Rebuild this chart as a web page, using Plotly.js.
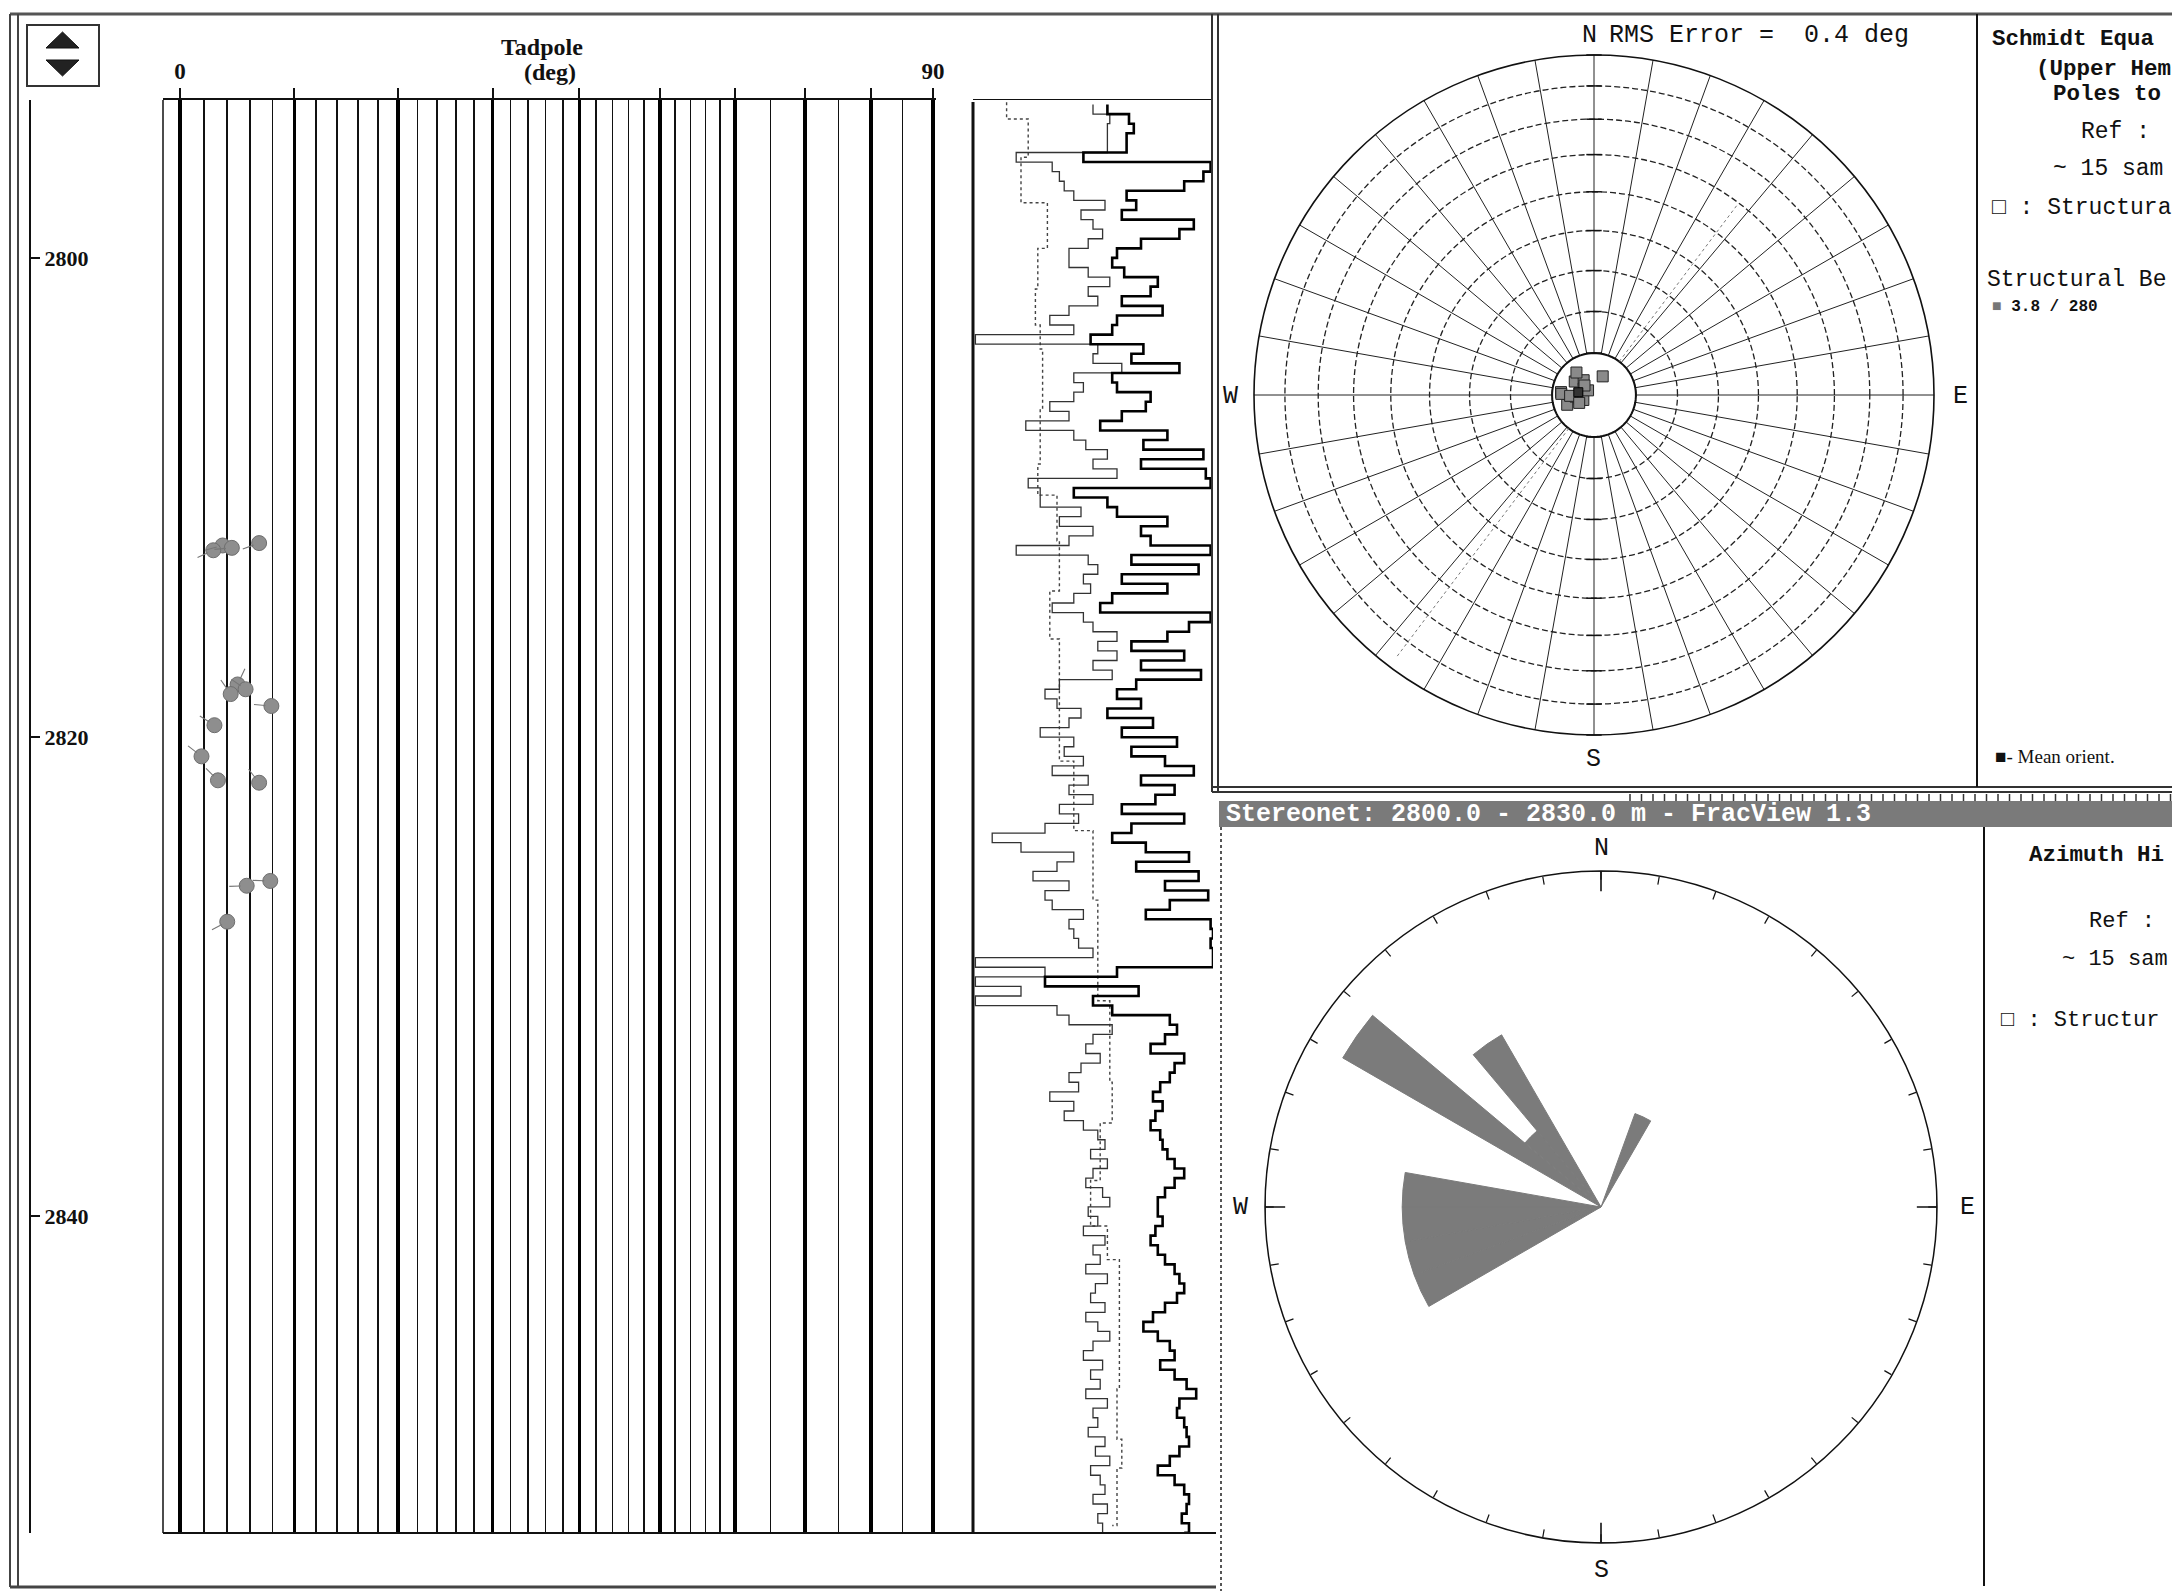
<!DOCTYPE html>
<html>
<head>
<meta charset="utf-8">
<script src="https://cdn.plot.ly/plotly-3.0.1.min.js"></script>
<style>
  html, body { margin: 0; padding: 0; background: #fff; }
  #chart { width: 2172px; height: 1591px; }
</style>
</head>
<body>
<div id="chart"></div>
<script>
const W = 2172, H = 1591;

// ---- Structural dips picked on the image log (depth m, dip deg, dip azimuth deg)
const dipDepth   = [2811.9, 2812.0, 2812.1, 2812.2, 2817.8, 2818.0, 2818.2, 2818.7, 2819.5, 2820.8, 2821.8, 2821.9, 2826.0, 2826.2, 2827.7];
const dipValue   = [6.8, 3.6, 4.4, 2.8, 4.9, 5.6, 4.3, 7.9, 2.9, 1.8, 3.2, 6.8, 7.8, 5.7, 4.0];
const dipAzimuth = [250, 255, 265, 245, 25, 305, 325, 275, 302, 308, 315, 322, 272, 268, 242];

// Structural bedding (mean orientation)
const meanDip = 3.8;
const meanAzimuth = 280;
const rmsError = 0.4;
const intervalTop = 2800.0, intervalBase = 2830.0;

// ---- Tadpole track grid (dip in degrees)
const dipMajor = [0, 10, 20, 30, 40, 50, 60, 70, 80, 90];
const dipMinor = [2, 4, 6, 8, 12, 14, 16, 18, 22, 24, 26, 28, 32, 34, 36, 38, 42, 44, 46, 48,
                  52, 54, 56, 58, 65, 75, 85];
const dipTickText = ['0', '', '', '', '', '', '', '', '', '90'];
const depthTicks = [2800, 2820, 2840];

// ---- Image-log curves, sampled every 0.4 m from 2793.6 m
const LOG_TOP = 2793.6, LOG_STEP = 0.4;
const logBold = [
  56, 65, 67, 64, 64, 46, 99, 96, 88, 64,
  68, 62, 92, 86, 70, 60, 58, 63, 77, 74,
  62, 79, 60, 58, 49, 71, 66, 86, 58, 60,
  74, 72, 62, 53, 81, 71, 96, 70, 97, 99,
  42, 56, 60, 81, 70, 74, 99, 66, 94, 62,
  81, 58, 53, 99, 90, 81, 66, 88, 70, 95,
  68, 60, 70, 56, 75, 62, 85, 66, 80, 92,
  70, 84, 76, 62, 88, 66, 58, 72, 90, 68,
  94, 80, 98, 82, 72, 99, 100, 99, 100, 100,
  60, 30, 69, 50, 58, 82, 85, 80, 74, 88,
  84, 82, 78, 75, 79, 76, 74, 78, 79, 81,
  84, 88, 84, 80, 77, 77, 79, 76, 74, 77,
  80, 84, 86, 88, 85, 80, 75, 71, 77, 82,
  84, 78, 84, 89, 93, 86, 85, 88, 89, 90,
  86, 82, 77, 84, 88, 90, 89, 87, 90, 88
];
const logThin = [
  50, 57, 56, 56, 56, 18, 33, 36, 38, 42,
  55, 45, 50, 54, 48, 40, 40, 48, 57, 48,
  52, 40, 32, 42, 1, 52, 50, 62, 42, 46,
  42, 32, 40, 22, 42, 47, 56, 50, 60, 23,
  28, 28, 45, 36, 50, 40, 18, 48, 52, 46,
  49, 42, 33, 46, 50, 60, 52, 60, 50, 58,
  36, 30, 35, 45, 40, 28, 42, 38, 46, 33,
  48, 40, 50, 36, 44, 30, 8, 20, 42, 35,
  25, 40, 30, 33, 46, 40, 42, 44, 50, 1,
  30, 1, 20, 1, 35, 40, 58, 50, 47, 53,
  45, 40, 44, 32, 42, 38, 46, 52, 55, 49,
  56, 50, 47, 54, 57, 48, 52, 46, 55, 50,
  53, 47, 56, 51, 49, 55, 47, 52, 57, 50,
  46, 54, 49, 53, 47, 56, 50, 52, 48, 55,
  51, 57, 49, 53, 55, 50, 56, 52, 54, 50
];
// Caliper-like dotted curve
const calDepth = [2793.5, 2794.2, 2795.5, 2795.8, 2796.6, 2797.7, 2799.6, 2801.3, 2802.8, 2803.8,
                  2806.3, 2808.6, 2809.4, 2809.9, 2811.8, 2813.9, 2815.9, 2817.6, 2821.0, 2823.9,
                  2826.8, 2831.0, 2834.4, 2836.1, 2838.5, 2840.4, 2841.8, 2843.7, 2847.2, 2849.3,
                  2850.5, 2852.9];
const calValue = [14, 23, 23, 20, 20, 31, 27, 26, 28, 29,
                  28, 27, 27, 35, 36, 32, 36, 36, 42, 50,
                  52, 57, 58, 53, 49, 56, 61, 61, 60, 62,
                  60, 58];

// ---- Stereonet / rose settings
const ringDips = [10, 20, 30, 40, 50, 60, 70, 80];
const roseBinWidth = 10;

// ---------------------------------------------------------------
const PX = x => x / W;
const PY = y => 1 - y / H;
const eqArea = d => Math.SQRT2 * Math.sin(d * Math.PI / 360);
const onLog = d => 90 + d;     // tadpole track uses a log(90 + dip) scale

const logDepth = logBold.map((_, i) => +(LOG_TOP + i * LOG_STEP).toFixed(2));

const ringR = ringDips.map(eqArea);

// rose histogram of dip azimuths
const nBins = 360 / roseBinWidth;
const roseCounts = new Array(nBins).fill(0);
dipAzimuth.forEach(a => { roseCounts[Math.floor((((a % 360) + 360) % 360) / roseBinWidth)] += 1; });
const roseTheta = [], roseR = [];
roseCounts.forEach((c, k) => { if (c > 0) { roseTheta.push(k * roseBinWidth + roseBinWidth / 2); roseR.push(c); } });
const roseMax = 3.38;

// circle of the 10 deg ring (masks the spokes near the centre)
const discTheta = [], discR = [];
for (let t = 0; t <= 360; t += 4) { discTheta.push(t); discR.push(ringR[0]); }

// cardinal crosses on the rose rim
const crossR = [], crossT = [];
[0, 90, 180, 270].forEach(t => {
  crossR.push(roseMax * 0.94, roseMax * 1.06, null, roseMax * 1.002, roseMax * 1.002, null);
  crossT.push(t, t, null, t - 3.2, t + 3.2, null);
});

const traces = [
  // caliper-like dotted curve
  { type: 'scatter', mode: 'lines', x: calValue, y: calDepth, xaxis: 'x2', yaxis: 'y',
    line: { color: '#444', width: 1.4, dash: 'dot', shape: 'vh' } },
  // thin image-log curve
  { type: 'scatter', mode: 'lines', x: logThin, y: logDepth, xaxis: 'x2', yaxis: 'y',
    line: { color: '#333', width: 1.3, shape: 'vh' } },
  // bold image-log curve
  { type: 'scatter', mode: 'lines', x: logBold, y: logDepth, xaxis: 'x2', yaxis: 'y',
    line: { color: '#000', width: 2.6, shape: 'vh' } },
  // tadpole heads
  { type: 'scatter', mode: 'markers', x: dipValue.map(onLog), y: dipDepth, xaxis: 'x', yaxis: 'y',
    marker: { size: 15, color: '#8e8e8e', line: { color: '#6e6e6e', width: 1 } } },

  // stereonet: white disc inside the 10 deg ring
  { type: 'scatterpolar', subplot: 'polar', mode: 'lines', r: discR, theta: discTheta,
    fill: 'toself', fillcolor: '#fff', line: { color: '#111', width: 2 } },
  // faint dotted trace through the net
  { type: 'scatterpolar', subplot: 'polar', mode: 'lines',
    r: [ringR[0], 0.70, null, ringR[0], 0.97], theta: [37, 37, null, 217, 217],
    line: { color: '#777', width: 1, dash: 'dot' } },
  // ring crosses on the N-S line
  { type: 'scatterpolar', subplot: 'polar', mode: 'markers',
    r: ringR.concat([1]).concat(ringR).concat([1]),
    theta: ringR.map(() => 0).concat([0]).concat(ringR.map(() => 180)).concat([180]),
    marker: { symbol: 'line-ew', size: 11, line: { color: '#111', width: 1.5 } }, cliponaxis: false },
  // poles to planes
  { type: 'scatterpolar', subplot: 'polar', mode: 'markers', r: dipValue.map(eqArea), theta: dipAzimuth,
    marker: { symbol: 'square', size: 11, color: '#8a8a8a', line: { color: '#222', width: 1 } } },
  // mean orientation
  { type: 'scatterpolar', subplot: 'polar', mode: 'markers', r: [eqArea(meanDip)], theta: [meanAzimuth],
    marker: { symbol: 'square', size: 9, color: '#333', line: { color: '#000', width: 1 } } },

  // rose diagram
  { type: 'barpolar', subplot: 'polar2', r: roseR, theta: roseTheta, width: roseBinWidth,
    marker: { color: '#7b7b7b', line: { color: '#7b7b7b', width: 1 } } },
  { type: 'scatterpolar', subplot: 'polar2', mode: 'lines', r: crossR, theta: crossT,
    line: { color: '#111', width: 1.6 }, cliponaxis: false }
];

// ---- frames and decorations
const shapes = [];
const line = (x0, y0, x1, y1, w, c, dash) => shapes.push({
  type: 'line', xref: 'paper', yref: 'paper', x0: PX(x0), y0: PY(y0), x1: PX(x1), y1: PY(y1),
  line: { color: c || '#111', width: w || 1.5, dash: dash || 'solid' } });

line(10, 14, 2172, 14, 3, '#555');          // top border
line(10, 14, 10, 1587, 2, '#444');          // outer double frame
line(18, 14, 18, 1587, 2, '#444');
line(10, 1587, 1216, 1587, 3, '#444');
line(1212, 14, 1212, 792, 2, '#333');       // left panel / stereonet divider
line(1218, 14, 1218, 792, 2, '#333');
line(1212, 787, 2172, 787, 2, '#333');      // stereonet panel bottom
line(1212, 792, 2172, 792, 2, '#333');
line(1221, 827, 1221, 1591, 2, '#555', 'dot');
line(1977, 14, 1977, 787, 2, '#111');       // stereonet text column
line(1984, 827, 1984, 1586, 2, '#111');     // rose text column
line(163, 100, 163, 1533, 1.5, '#111');     // tadpole track left side
line(163, 1533, 1216, 1533, 2, '#111');     // tracks base line
line(973, 102, 973, 1533, 3, '#111');       // log track left side

// ruler strip above the banner
let ruler = '';
for (let x = 1630; x < 2172; x += 11.5) {
  ruler += `M${PX(x)},${PY(794)} L${PX(x)},${PY(801)} `;
}
shapes.push({ type: 'path', xref: 'paper', yref: 'paper', path: ruler, line: { color: '#333', width: 1.5 } });

// banner
shapes.push({ type: 'rect', xref: 'paper', yref: 'paper', x0: PX(1219), x1: PX(2172), y0: PY(827), y1: PY(801),
  fillcolor: '#7a7a7a', line: { width: 0 } });

// scroll button
shapes.push({ type: 'rect', xref: 'paper', yref: 'paper', x0: PX(27), x1: PX(99), y0: PY(86), y1: PY(25),
  fillcolor: '#fff', line: { color: '#333', width: 2 } });
shapes.push({ type: 'path', xref: 'paper', yref: 'paper',
  path: `M${PX(46)},${PY(48)} L${PX(79)},${PY(48)} L${PX(62.5)},${PY(32)} Z`, fillcolor: '#222', line: { color: '#111', width: 1 } });
shapes.push({ type: 'path', xref: 'paper', yref: 'paper',
  path: `M${PX(46)},${PY(60)} L${PX(79)},${PY(60)} L${PX(62.5)},${PY(76)} Z`, fillcolor: '#222', line: { color: '#111', width: 1 } });

// ---- texts
const MONO = 'Liberation Mono, DejaVu Sans Mono, monospace';
const SERIF = 'Liberation Serif, DejaVu Serif, serif';
const annotations = [];
const txt = (x, y, text, size, opts) => annotations.push(Object.assign({
  xref: 'paper', yref: 'paper', x: PX(x), y: PY(y), text: text, showarrow: false,
  xanchor: 'left', yanchor: 'middle',
  font: { family: MONO, size: size, color: '#111' } }, opts || {}));

const nSamples = dipDepth.length;

txt(542, 47, 'Tadpole', 24, { xanchor: 'center', font: { family: SERIF, size: 24, color: '#111', weight: 'bold' } });
txt(550, 72, '(deg)', 24, { xanchor: 'center', font: { family: SERIF, size: 24, color: '#111', weight: 'bold' } });

// stereonet labels
txt(1589, 35, 'N', 25, { xanchor: 'center' });
txt(1607, 35, 'RMS Error =\u00a0 ' + rmsError.toFixed(1) + ' deg', 25);
txt(1230, 396, 'W', 25, { xanchor: 'center' });
txt(1960, 396, 'E', 25, { xanchor: 'center' });
txt(1593, 759, 'S', 25, { xanchor: 'center' });

// rose labels
txt(1601, 848, 'N', 25, { xanchor: 'center' });
txt(1601, 1570, 'S', 25, { xanchor: 'center' });
txt(1240, 1207, 'W', 25, { xanchor: 'center' });
txt(1967, 1207, 'E', 25, { xanchor: 'center' });

// stereonet text column
const BOLD = { family: MONO, size: 22.5, color: '#111', weight: 'bold' };
txt(1990, 39, 'Schmidt Equa', 22.5, { font: BOLD });
txt(2034, 69, '(Upper Hem', 22.5, { font: BOLD });
txt(2051, 94, 'Poles to', 22.5, { font: BOLD });
txt(2079, 132, 'Ref :', 23);
txt(2051, 169, '~ ' + nSamples + ' sam', 23);
txt(1990, 208, '\u25a1 : Structura', 23);
txt(1985, 280, 'Structural Be', 23);
txt(1990, 307, '<span style="color:#777">\u25a0</span> ' + meanDip.toFixed(1) + ' / ' + meanAzimuth, 16,
    { font: { family: MONO, size: 16, color: '#111', weight: 'bold' } });
txt(1993, 756, '\u25a0- Mean orient.', 18, { font: { family: SERIF, size: 19, color: '#111' } });

// banner
txt(1224, 814, 'Stereonet: ' + intervalTop.toFixed(1) + ' - ' + intervalBase.toFixed(1) + ' m - FracView 1.3', 25,
    { font: { family: MONO, size: 25, color: '#fff', weight: 'bold' } });

// rose text column
txt(2027, 855, 'Azimuth Hi', 22.5, { font: BOLD });
txt(2087, 921, 'Ref :', 22);
txt(2060, 960, '~ ' + nSamples + ' sam', 22);
txt(1999, 1021, '\u25a1 : Structur', 22);

// tadpole tails, pointing to the dip azimuth
const TAIL = 19;
dipDepth.forEach((d, k) => {
  const a = dipAzimuth[k] * Math.PI / 180;
  annotations.push({
    xref: 'x', yref: 'y', x: Math.log10(onLog(dipValue[k])), y: d,
    ax: TAIL * Math.sin(a), ay: -TAIL * Math.cos(a),
    text: '', showarrow: true, arrowhead: 0, arrowwidth: 1.1, arrowcolor: '#777', standoff: 6
  });
});

const layout = {
  width: W, height: H,
  margin: { l: 0, r: 0, t: 0, b: 0 },
  paper_bgcolor: '#fff', plot_bgcolor: '#fff',
  showlegend: false,
  xaxis: {
    domain: [PX(163), PX(936)], type: 'log', range: [1.94745, 2.25647], autorange: false,
    anchor: 'y', side: 'top',
    tickmode: 'array', tickvals: dipMajor.map(onLog), ticktext: dipTickText,
    ticks: 'outside', ticklen: 10, tickwidth: 2, tickcolor: '#111',
    tickfont: { family: SERIF, size: 23, color: '#111', weight: 'bold' },
    showgrid: true, gridcolor: '#000', gridwidth: 3.4,
    minor: { tickmode: 'array', tickvals: dipMinor.map(onLog), showgrid: true, gridcolor: '#111', gridwidth: 1.8, ticks: '' },
    showline: true, linecolor: '#111', linewidth: 2, zeroline: false, fixedrange: true
  },
  yaxis: {
    domain: [PY(1533), PY(100)], range: [2853.21, 2793.41], autorange: false,
    anchor: 'free', position: PX(30), side: 'right',
    tickmode: 'array', tickvals: depthTicks,
    ticks: 'outside', ticklen: 9, tickwidth: 2, tickcolor: '#111',
    tickfont: { family: SERIF, size: 22, color: '#111', weight: 'bold' },
    showline: true, linecolor: '#111', linewidth: 2, showgrid: false, zeroline: false, fixedrange: true
  },
  xaxis2: {
    domain: [PX(973), PX(1213)], range: [0, 100], autorange: false,
    anchor: 'y', side: 'top', showticklabels: false, ticks: '',
    showline: true, linecolor: '#111', linewidth: 1.5, showgrid: false, zeroline: false, fixedrange: true
  },
  polar: {
    domain: { x: [PX(1254), PX(1934)], y: [PY(735), PY(55)] },
    bgcolor: '#fff',
    angularaxis: {
      rotation: 90, direction: 'clockwise', tickmode: 'linear', tick0: 0, dtick: 10,
      showgrid: true, gridcolor: '#222', gridwidth: 1,
      showline: true, linecolor: '#111', linewidth: 1.6, ticks: '', showticklabels: false
    },
    radialaxis: {
      range: [0, 1], autorange: false, tickmode: 'array', tickvals: ringR,
      showgrid: true, gridcolor: '#222', gridwidth: 1.3, griddash: '6px,3px',
      showline: false, ticks: '', showticklabels: false
    }
  },
  polar2: {
    domain: { x: [PX(1265), PX(1937)], y: [PY(1543), PY(871)] },
    bgcolor: '#fff',
    angularaxis: {
      rotation: 90, direction: 'clockwise', tickmode: 'linear', tick0: 0, dtick: 10,
      showgrid: false, showline: true, linecolor: '#111', linewidth: 1.5,
      ticks: 'inside', ticklen: 8, tickwidth: 1.2, tickcolor: '#111', showticklabels: false
    },
    radialaxis: { range: [0, roseMax], autorange: false, visible: false, showgrid: false }
  },
  shapes: shapes,
  annotations: annotations
};

Plotly.newPlot('chart', traces, layout, { staticPlot: true, displayModeBar: false });
</script>
</body>
</html>
